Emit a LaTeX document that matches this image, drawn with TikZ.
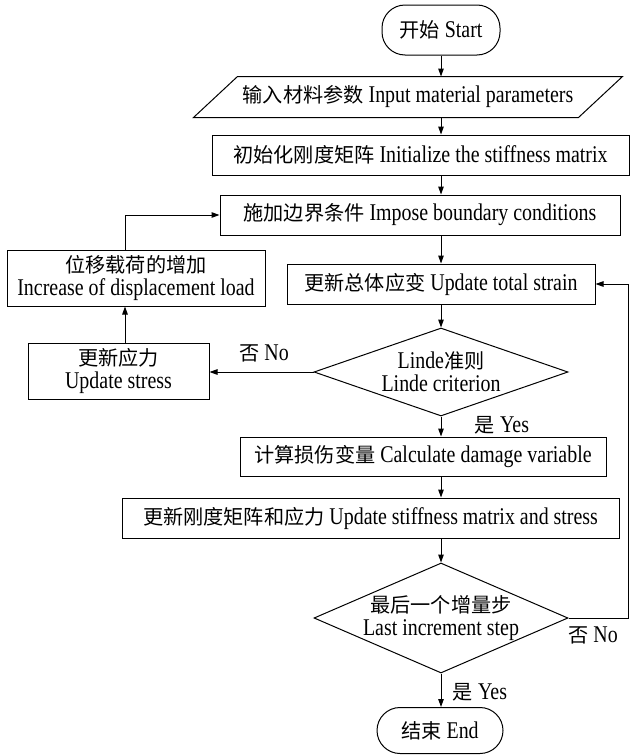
\documentclass[tikz,border=0pt]{standalone}
\usepackage{graphicx}
\usepackage{fontspec}
\setmainfont{Liberation Serif}[FakeStretch=0.83]
\newfontfamily\cjkfont{Noto Sans CJK SC}[Scale=0.84]
\newcommand\zhtxt[1]{{\cjkfont #1}}
\usetikzlibrary{shapes.geometric,arrows.meta}
\begin{document}
\begin{tikzpicture}[x=1pt,y=-1pt,
  font=\fontsize{24}{23}\selectfont,
  line width=1pt,
  >={Triangle[length=8pt,width=5.5pt]},
  box/.style={draw, rectangle, inner sep=0pt, align=center},
  term/.style={draw, rectangle, rounded corners=23pt, inner sep=0pt},
  dec/.style={draw, diamond, inner sep=0pt},
  dectxt/.style={inner sep=0pt, align=center},
  lbl/.style={inner sep=0pt}]
\useasboundingbox (0,0) rectangle (630,755);
\coordinate (loopx) at (628,0);

\node[term, minimum width=118pt, minimum height=50pt] (start) at (441,30) {\zhtxt{开始} Start};
\node[inner sep=0pt, minimum width=384pt, minimum height=40pt] (input) at (408,97) {\zhtxt{输入材料参数} Input material parameters};
\draw ([xshift=-22pt]input.south west) -- ([xshift=22pt]input.north west) -- ([xshift=22pt]input.north east) -- ([xshift=-22pt]input.south east) -- cycle;
\node[box, minimum width=417pt, minimum height=40pt] (init) at (420.5,155) {\zhtxt{初始化刚度矩阵} Initialize the stiffness matrix};
\node[box, minimum width=400pt, minimum height=40pt] (impose) at (420,215) {\zhtxt{施加边界条件} Impose boundary conditions};
\node[box, minimum width=308pt, minimum height=40pt] (strain) at (441,284) {\zhtxt{更新总体应变} Update total strain};
\node[dec, minimum width=254pt, minimum height=88pt] (linde) at (441,372) {};
\node[dectxt] (lindetxt) at (linde.center) {Linde\zhtxt{准则}\\Linde criterion};
\node[box, minimum width=366pt, minimum height=39pt] (calc) at (423,456.5) {\zhtxt{计算损伤变量} Calculate damage variable};
\node[box, minimum width=497pt, minimum height=40pt] (stiff) at (370.5,518) {\zhtxt{更新刚度矩阵和应力} Update stiffness matrix and stress};
\node[dec, minimum width=254pt, minimum height=110pt] (last) at (441,618) {};
\node[dectxt] (lasttxt) at (last.center) {\zhtxt{最后一个增量步}\\Last increment step};
\node[term, minimum width=126pt, minimum height=46pt] (end) at (440,730.5) {\zhtxt{结束} End};
\node[box, minimum width=181pt, minimum height=56pt] (ustress) at (118.5,371) {\zhtxt{更新应力}\\Update stress};
\node[box, minimum width=258pt, minimum height=56pt] (incr) at (136,278) {\zhtxt{位移载荷的增加}\\Increase of displacement load};

\node[lbl] (lno) at (264,353) {\zhtxt{否} No};
\node[lbl] (lyes) at (502,425) {\zhtxt{是} Yes};
\node[lbl] (lno2) at (593,635) {\zhtxt{否} No};
\node[lbl] (lyes2) at (480,692) {\zhtxt{是} Yes};

\draw[->] (start.south) -- (start.south |- input.north);
\draw[->] (start.south |- input.south) -- (start.south |- init.north);
\draw[->] (start.south |- init.south) -- (start.south |- impose.north);
\draw[->] (strain.north |- impose.south) -- (strain.north);
\draw[->] (strain.south) -- (linde.north);
\draw[->] (linde.south) -- (linde.south |- calc.north);
\draw[->] (linde.south |- calc.south) -- (linde.south |- stiff.north);
\draw[->] (linde.south |- stiff.south) -- (last.north);
\draw[->] (last.south) -- (last.south |- end.north);
\draw[->] (linde.west) -- (linde.west -| ustress.east);
\draw[->] ([xshift=6.5pt]ustress.north) -- ([xshift=6.5pt]ustress.north |- incr.south);
\draw[->] ([xshift=6.5pt]ustress.north |- incr.north) |- (impose.west);
\draw[->] (last.east) -- (last.east -| loopx) |- (strain.east);
\end{tikzpicture}
\end{document}
